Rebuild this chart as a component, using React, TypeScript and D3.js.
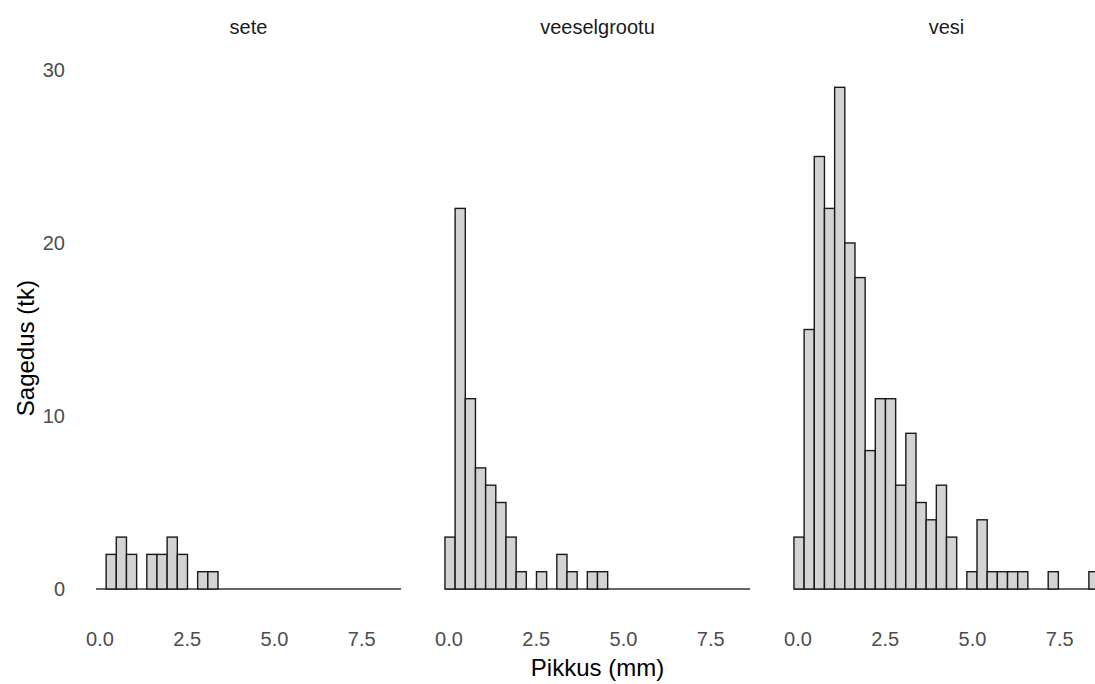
import React from "react";
import * as d3 from "d3";

const facets = ["sete", "veeselgrootu", "vesi"];
const binStart = 0.031; // centre of the first bin (mm)
const binWidth = 0.2914; // mm
const countsSete = [0, 2, 3, 2, 0, 2, 2, 3, 2, 0, 1, 1, 0, 0, 0, 0, 0, 0, 0, 0, 0, 0, 0, 0, 0, 0, 0, 0, 0, 0];
const countsVeeselgrootu = [3, 22, 11, 7, 6, 5, 3, 1, 0, 1, 0, 2, 1, 0, 1, 1, 0, 0, 0, 0, 0, 0, 0, 0, 0, 0, 0, 0, 0, 0];
const countsVesi = [3, 15, 25, 22, 29, 20, 18, 8, 11, 11, 6, 9, 5, 4, 6, 3, 0, 1, 4, 1, 1, 1, 1, 0, 0, 1, 0, 0, 0, 1];
const xTicks = [0, 2.5, 5, 7.5];
const yTicks = [0, 10, 20, 30];
const xTitle = "Pikkus (mm)";
const yTitle = "Sagedus (tk)";

const allCounts = [countsSete, countsVeeselgrootu, countsVesi];

export default function App() {
  const W = 1095;
  const H = 684;
  const panelW = 335.6;
  const panelStep = 349;
  const panelLeft0 = 80.7;
  const font = "Arial, 'Liberation Sans', Helvetica, sans-serif";

  const nBins = countsSete.length;
  const lo = binStart - binWidth / 2;
  const hi = binStart + (nBins - 0.5) * binWidth;
  const pad = (hi - lo) * 0.05;

  const y = d3.scaleLinear().domain([0, 29]).range([589, 589 - 29 * 17.3]);

  return (
    <svg
      width={W}
      height={H}
      style={{ position: "absolute", left: 0, top: 0, background: "#fff" }}
      fontFamily={font}
    >
      <rect x={0} y={0} width={W} height={H} fill="#fff" />
      {facets.map((f, i) => {
        const left = panelLeft0 + i * panelStep;
        const x = d3.scaleLinear().domain([lo - pad, hi + pad]).range([left, left + panelW]);
        const counts = allCounts[i];
        return (
          <g key={f}>
            <text
              x={left + panelW / 2}
              y={27}
              textAnchor="middle"
              dominantBaseline="central"
              fontSize={20}
              fill="#1A1A1A"
            >
              {f}
            </text>
            <line x1={x(lo)} x2={x(hi)} y1={y(0)} y2={y(0)} stroke="#333" strokeWidth={1.5} />
            {counts.map((c, k) => {
              if (c === 0) return null;
              const x0 = x(lo + k * binWidth);
              const x1 = x(lo + (k + 1) * binWidth);
              return (
                <rect
                  key={k}
                  x={x0}
                  y={y(c)}
                  width={x1 - x0}
                  height={y(0) - y(c)}
                  fill="#D3D3D3"
                  stroke="#1a1a1a"
                  strokeWidth={1.4}
                />
              );
            })}
            {xTicks.map((t) => (
              <text
                key={t}
                x={x(t)}
                y={639}
                textAnchor="middle"
                dominantBaseline="central"
                fontSize={20}
                fill="#4D4D4D"
              >
                {t.toFixed(1)}
              </text>
            ))}
          </g>
        );
      })}
      {yTicks.map((t) => (
        <text
          key={t}
          x={65}
          y={y(t)}
          textAnchor="end"
          dominantBaseline="central"
          fontSize={20}
          fill="#4D4D4D"
        >
          {t}
        </text>
      ))}
      <text
        x={panelLeft0 + panelStep + panelW / 2}
        y={667}
        textAnchor="middle"
        dominantBaseline="central"
        fontSize={24}
        fill="#000"
      >
        {xTitle}
      </text>
      <text
        transform={`translate(25, ${(y(0) + y(29)) / 2 + 10}) rotate(-90)`}
        textAnchor="middle"
        dominantBaseline="central"
        fontSize={24}
        fill="#000"
      >
        {yTitle}
      </text>
    </svg>
  );
}
